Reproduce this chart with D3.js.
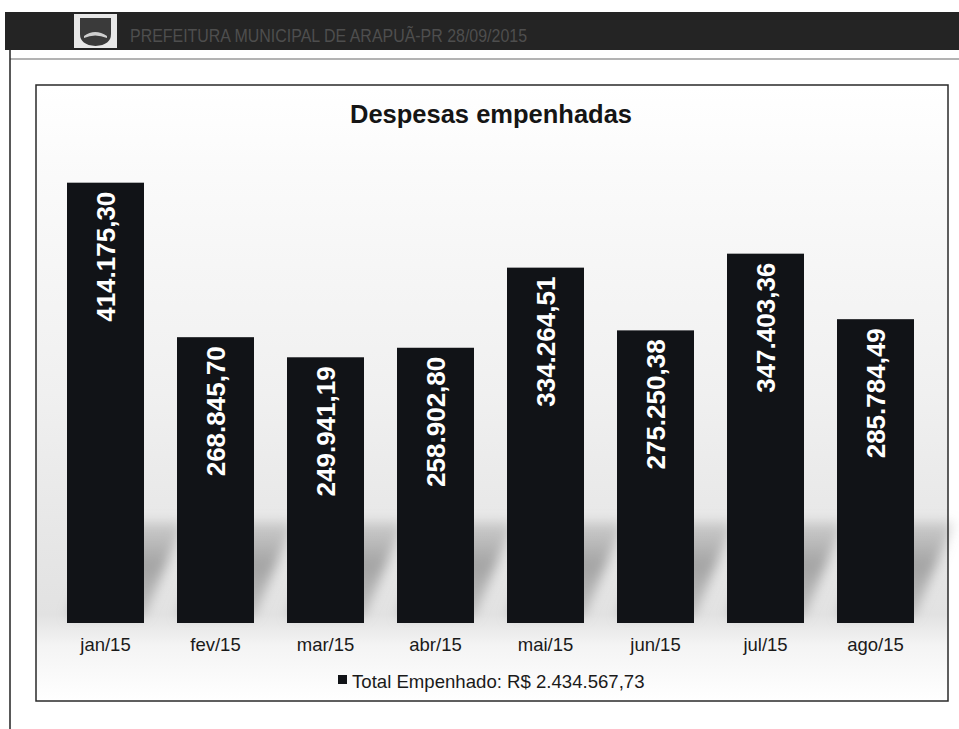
<!DOCTYPE html>
<html>
<head>
<meta charset="utf-8">
<script src="https://cdn.jsdelivr.net/npm/d3@7"></script>
<style>
  body { margin: 0; background: #fff; }
  svg { display: block; font-family: "Liberation Sans", Arial, sans-serif; }
</style>
</head>
<body>
<svg id="chart"></svg>
<script>
const months = ["jan/15", "fev/15", "mar/15", "abr/15", "mai/15", "jun/15", "jul/15", "ago/15"];
const values = [414175.30, 268845.70, 249941.19, 258902.80, 334264.51, 275250.38, 347403.36, 285784.49];
const headerText = "PREFEITURA MUNICIPAL DE ARAPUÃ-PR 28/09/2015";
const chartTitle = "Despesas empenhadas";
const seriesName = "Total Empenhado";

document.addEventListener("DOMContentLoaded", function () {
  const width = 959;
  const height = 729;

  const br = d3.formatLocale({ decimal: ",", thousands: ".", grouping: [3], currency: ["R$ ", ""] });
  const fmt = br.format(",.2f");

  const svg = d3.select("#chart").attr("width", width).attr("height", height);
  const defs = svg.append("defs");

  // page header band
  svg.append("rect").attr("x", 5).attr("y", 12).attr("width", width - 5).attr("height", 38).attr("fill", "#242424");
  svg.append("rect").attr("x", 74).attr("y", 14).attr("width", 43).attr("height", 34).attr("fill", "#e8e8e8");
  svg.append("path")
    .attr("d", "M80,18 L111,18 L111,34 Q111,45 95.5,46 Q80,45 80,34 Z")
    .attr("fill", "#3a3a3a");
  svg.append("path")
    .attr("d", "M84,36 Q95,28 107,36 L107,38 Q95,33 84,38 Z")
    .attr("fill", "#cfcfcf");
  svg.append("text")
    .attr("x", 130).attr("y", 42)
    .attr("font-size", 18)
    .attr("textLength", 397).attr("lengthAdjust", "spacingAndGlyphs")
    .attr("fill", "#4e4e4e")
    .text(headerText);

  svg.append("line").attr("x1", 10).attr("x2", width).attr("y1", 59).attr("y2", 59)
    .attr("stroke", "#9a9a9a").attr("stroke-width", 1.5);
  svg.append("line").attr("x1", 10).attr("x2", 10).attr("y1", 50).attr("y2", height)
    .attr("stroke", "#222").attr("stroke-width", 1.5);

  // chart frame
  const box = { x: 36, y: 85, w: 912, h: 616 };

  const bg = defs.append("linearGradient").attr("id", "bg").attr("x1", 0).attr("x2", 0).attr("y1", 0).attr("y2", 1);
  bg.append("stop").attr("offset", "0%").attr("stop-color", "#ffffff");
  bg.append("stop").attr("offset", "15%").attr("stop-color", "#fafafa");
  bg.append("stop").attr("offset", "50%").attr("stop-color", "#f0f0f0");
  bg.append("stop").attr("offset", "75%").attr("stop-color", "#e6e6e6");
  bg.append("stop").attr("offset", "86%").attr("stop-color", "#e2e2e2");
  bg.append("stop").attr("offset", "91%").attr("stop-color", "#f4f4f4");
  bg.append("stop").attr("offset", "100%").attr("stop-color", "#ffffff");

  defs.append("filter").attr("id", "blur").attr("x", "-30%").attr("y", "-30%").attr("width", "160%").attr("height", "160%")
    .append("feGaussianBlur").attr("stdDeviation", 6);

  svg.append("rect").attr("x", box.x).attr("y", box.y).attr("width", box.w).attr("height", box.h)
    .attr("fill", "url(#bg)");

  const x = d3.scaleBand().domain(months).range([50.5, 930.5]).paddingInner(0.3).paddingOuter(0.15);
  const y = d3.scaleLinear().domain([0, 450000]).range([623, 144.6]);

  const data = months.map((m, i) => ({ month: m, value: values[i] }));

  // floor shadows cast behind the bars, fading towards the top
  const dx = 40, dh = 95;
  const base = y(0) - 6;
  const sg = defs.append("linearGradient").attr("id", "shade")
    .attr("gradientUnits", "userSpaceOnUse")
    .attr("x1", 0).attr("x2", 0).attr("y1", base - dh).attr("y2", base);
  sg.append("stop").attr("offset", "0%").attr("stop-color", "#9a9a9a").attr("stop-opacity", 0.35);
  sg.append("stop").attr("offset", "45%").attr("stop-color", "#8e8e8e").attr("stop-opacity", 0.75);
  sg.append("stop").attr("offset", "100%").attr("stop-color", "#a5a5a5").attr("stop-opacity", 0.6);

  svg.append("g").attr("filter", "url(#blur)")
    .selectAll("path")
    .data(data)
    .join("path")
    .attr("d", (d) => {
      const x0 = x(d.month), x1 = x(d.month) + x.bandwidth();
      return `M${x0},${base}L${x1},${base}L${x1 + dx},${base - dh}L${x0 + dx},${base - dh}Z`;
    })
    .attr("fill", "url(#shade)");

  svg.append("g")
    .selectAll("rect")
    .data(data)
    .join("rect")
    .attr("x", (d) => x(d.month))
    .attr("y", (d) => y(d.value))
    .attr("width", x.bandwidth())
    .attr("height", (d) => y(0) - y(d.value))
    .attr("fill", "#111317");

  // value labels inside bars
  svg.append("g")
    .selectAll("text")
    .data(data)
    .join("text")
    .attr("transform", (d) => `translate(${x(d.month) + x.bandwidth() / 2},${y(d.value) + 9}) rotate(-90)`)
    .attr("text-anchor", "end")
    .attr("dy", "0.36em")
    .attr("font-size", 26)
    .attr("font-weight", "bold")
    .attr("fill", "#fff")
    .text((d) => fmt(d.value));

  // category labels
  const xAxis = svg.append("g").attr("transform", `translate(0,${y(0)})`)
    .call(d3.axisBottom(x).tickSize(0).tickPadding(15));
  xAxis.select(".domain").remove();
  xAxis.selectAll("text").attr("font-size", 18.5).attr("fill", "#1a1a1a")
    .attr("font-family", "'Liberation Sans', Arial, sans-serif");

  // title
  svg.append("text")
    .attr("x", 491).attr("y", 123)
    .attr("text-anchor", "middle")
    .attr("font-size", 25.5)
    .attr("font-weight", "bold")
    .attr("fill", "#151515")
    .text(chartTitle);

  // legend
  const legend = svg.append("g").attr("transform", "translate(338,688)");
  legend.append("rect").attr("x", 0).attr("y", -13).attr("width", 9).attr("height", 9).attr("fill", "#111317");
  legend.append("text").attr("x", 14).attr("y", 0)
    .attr("font-size", 18.6).attr("fill", "#1a1a1a")
    .text(`${seriesName}: R$ ${fmt(d3.sum(values))}`);

  svg.append("rect").attr("x", box.x).attr("y", box.y).attr("width", box.w).attr("height", box.h)
    .attr("fill", "none").attr("stroke", "#2a2a2a").attr("stroke-width", 1.5);
});
</script>
</body>
</html>
